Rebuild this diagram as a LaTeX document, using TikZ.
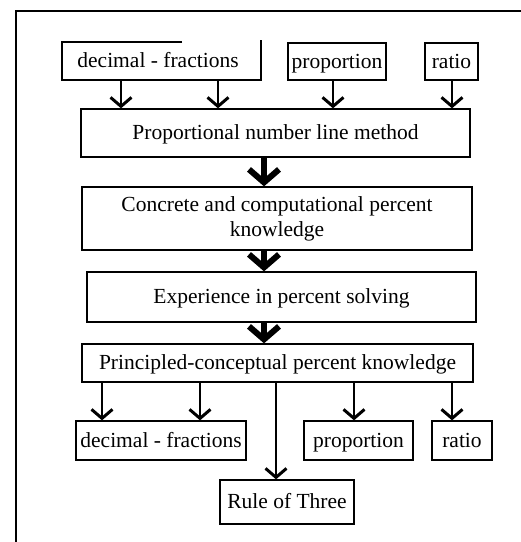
\documentclass[tikz,border=0pt]{standalone}
\usepackage{fontspec}
\setmainfont{Liberation Serif}
\usetikzlibrary{arrows.meta}
\begin{document}
\begin{tikzpicture}[x=1pt,y=-1pt,
  base/.style={inner sep=0pt,align=center,font=\fontsize{21.5}{25}\selectfont},
  box/.style={base,draw,line width=1.3pt,text height=15pt,text depth=2pt},
  multibox/.style={base,draw,line width=1.3pt},
  plain/.style={base,text height=15pt,text depth=2pt},
  thin/.style={line width=1.3pt,-{Straight Barb[length=9pt,width=21pt,line width=3pt]}},
  thick/.style={line width=6pt,-{Straight Barb[length=13pt,width=30pt,line width=6pt]}}]
\useasboundingbox (0,0) rectangle (521,542);
% frame
\draw[line width=2pt] (521,11) -- (16,11) -- (16,542);
% top row
\node[plain,minimum width=199pt,minimum height=38pt] (d1) at (158,61) {decimal - fractions};
\draw[line width=1.3pt] (182,42) -- (62,42) -- (62,80) -- (261,80) -- (261,40);
\node[box,minimum width=98pt,minimum height=37pt] (p1) at (337,61.5) {proportion};
\node[box,minimum width=53pt,minimum height=37pt] (r1) at (451.5,61.5) {ratio};
% chain
\node[box,minimum width=389pt,minimum height=48pt] (m1) at (275.5,133) {Proportional number line method};
\node[multibox,minimum width=390pt,minimum height=63pt] (c1) at (277,218.5) {Concrete and computational percent\\knowledge};
\node[box,minimum width=389pt,minimum height=50pt] (e1) at (281.5,297) {Experience in percent solving};
\node[box,minimum width=391pt,minimum height=38pt] (pc) at (277.5,363) {Principled-conceptual percent knowledge};
% bottom row
\node[box,minimum width=170pt,minimum height=39pt] (d2) at (161,440.5) {decimal - fractions};
\node[box,minimum width=109pt,minimum height=39pt] (p2) at (358.5,440.5) {proportion};
\node[box,minimum width=60pt,minimum height=39pt] (r2) at (462,440.5) {ratio};
\node[box,minimum width=134pt,minimum height=44pt] (rt) at (287,502) {Rule of Three};
% x positions
\coordinate (xa) at (121,0);
\coordinate (xb) at (218,0);
\coordinate (xc) at (333,0);
\coordinate (xd) at (452,0);
\coordinate (xt) at (264,0);
\coordinate (ya) at (102,0);
\coordinate (yb) at (200,0);
\coordinate (yc) at (276,0);
\coordinate (yd) at (354,0);
\coordinate (ye) at (452,0);
% top arrows
\draw[thin] (xa |- d1.south) -- (xa |- m1.north);
\draw[thin] (xb |- d1.south) -- (xb |- m1.north);
\draw[thin] (xc |- p1.south) -- (xc |- m1.north);
\draw[thin] (xd |- r1.south) -- (xd |- m1.north);
% thick arrows
\draw[thick] (xt |- m1.south) -- (xt |- c1.north);
\draw[thick] (xt |- c1.south) -- (xt |- e1.north);
\draw[thick] (xt |- e1.south) -- (xt |- pc.north);
% bottom arrows
\draw[thin] (ya |- pc.south) -- (ya |- d2.north);
\draw[thin] (yb |- pc.south) -- (yb |- d2.north);
\draw[thin] (yd |- pc.south) -- (yd |- p2.north);
\draw[thin] (ye |- pc.south) -- (ye |- r2.north);
\draw[thin] (yc |- pc.south) -- (yc |- rt.north);
\end{tikzpicture}
\end{document}
